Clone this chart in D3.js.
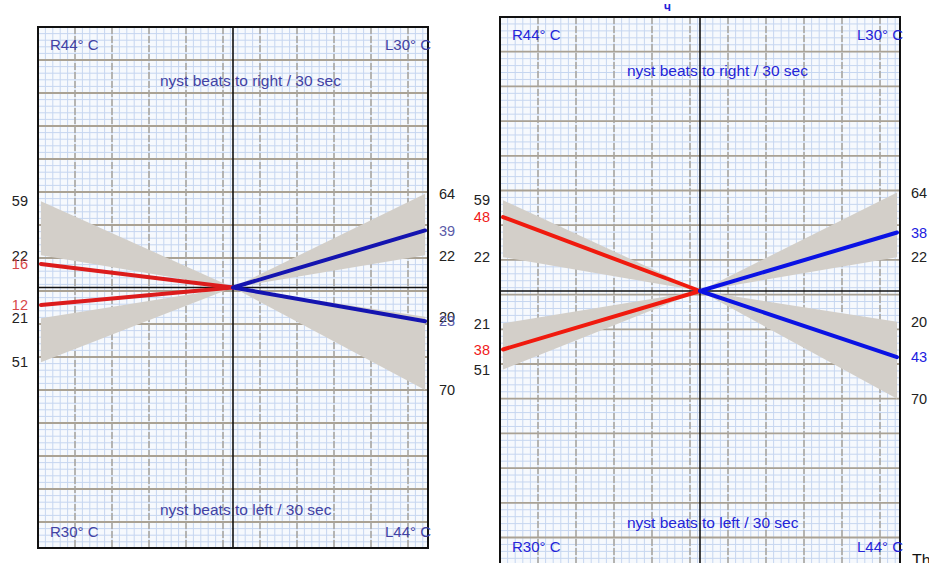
<!DOCTYPE html>
<html>
<head>
<meta charset="utf-8">
<script src="https://cdn.jsdelivr.net/npm/d3@7"></script>
<style>
  body { margin: 0; background: #fff; }
  svg { display: block; font-family: "Liberation Sans", Arial, sans-serif; }
</style>
</head>
<body>
<script>
// quadrants: upper-left, upper-right, lower-left, lower-right
var quadrants = ["R44° C", "L30° C", "R30° C", "L44° C"]
var quadSide = [-1, 1, -1, 1]      // -1 = right ear (left half), 1 = left ear
var quadDir = [1, 1, -1, -1]       // 1 = beats to right, -1 = beats to left
var normLow = [22, 22, 21, 20]
var normHigh = [59, 64, 51, 70]
var lineColor = ["red", "blue", "red", "blue"]
var beforeValues = [16, 39, 12, 23]
var afterValues = [48, 38, 38, 43]
var titles = ["nyst beats to right / 30 sec", "nyst beats to left / 30 sec"]

var width = 929, height = 563

var svg = d3.select("body").append("svg")
    .attr("width", width)
    .attr("height", height)

var panels = [
  {values: beforeValues, x0: 38, x1: 428, y0: 27, y1: 548, gx: 37, gy: 33, shift: 0,
   text: "#4242a4", red: "#dc1c1c", blue: "#1414b0", redLab: "#d84848", blueLab: "#5a5aa8"},
  {values: afterValues, x0: 500, x1: 900, y0: 17, y1: 565, gx: 38, gy: 34.7, shift: 2,
   text: "#2424d8", red: "#f01a0e", blue: "#0a12e4", redLab: "#f01a1a", blueLab: "#2020e0"}
]

panels.forEach(function(p, pi){
  var clipId = "clip" + pi
  svg.append("clipPath").attr("id", clipId)
    .append("rect").attr("x", p.x0).attr("y", p.y0)
    .attr("width", p.x1 - p.x0).attr("height", p.y1 - p.y0)

  var x = d3.scaleLinear().domain([-1, 1]).range([p.x0, p.x1])
  var y = d3.scaleLinear().domain([-178, 178]).range([p.y1, p.y0])

  var g = svg.append("g")
  var grid = g.append("g").attr("clip-path", "url(#" + clipId + ")")

  grid.append("rect")
    .attr("x", p.x0).attr("y", p.y0)
    .attr("width", p.x1 - p.x0).attr("height", p.y1 - p.y0)
    .attr("fill", "#f6f9fd")

  // minor grid
  grid.selectAll(".mv").data(d3.range(p.x0, p.x1, p.gx / 5)).enter().append("line")
    .attr("x1", d => d).attr("x2", d => d).attr("y1", p.y0).attr("y2", p.y1)
    .attr("stroke", "#c6d6f0").attr("stroke-width", 1)
  grid.selectAll(".mh").data(d3.range(p.y0, p.y1, p.gy / 5)).enter().append("line")
    .attr("y1", d => d).attr("y2", d => d).attr("x1", p.x0).attr("x2", p.x1)
    .attr("stroke", "#c6d6f0").attr("stroke-width", 1)

  // major grid
  grid.selectAll(".Mh").data(d3.range(p.y0 + p.gy, p.y1, p.gy)).enter().append("line")
    .attr("y1", d => d).attr("y2", d => d).attr("x1", p.x0).attr("x2", p.x1)
    .attr("stroke", "#aaa294").attr("stroke-width", 1.8)
  grid.selectAll(".Mv").data(d3.range(p.x0 + p.gx, p.x1, p.gx)).enter().append("line")
    .attr("x1", d => d).attr("x2", d => d).attr("y1", p.y0).attr("y2", p.y1)
    .attr("stroke", "#a8a49c").attr("stroke-width", 1.5)
    .attr("stroke-dasharray", "7,2")

  // normal range wedges
  var data = quadrants.map(function(q, i){
    return {q: q, side: quadSide[i], dir: quadDir[i], lo: normLow[i], hi: normHigh[i],
            v: p.values[i], c: lineColor[i]}
  })

  grid.selectAll(".wedge").data(data).enter().append("path")
    .attr("d", function(d){
      return d3.line()([[x(0), y(0)], [x(d.side * 0.985), y(d.lo * d.dir)], [x(d.side * 0.985), y(d.hi * d.dir)]]) + "Z"
    })
    .attr("fill", "#d3cfc9")

  // axes through centre
  g.append("line").attr("x1", x(0)).attr("x2", x(0)).attr("y1", p.y0).attr("y2", p.y1)
    .attr("stroke", "#111").attr("stroke-width", 1.6)
  g.append("line").attr("x1", p.x0).attr("x2", p.x1).attr("y1", y(0)).attr("y2", y(0))
    .attr("stroke", "#111").attr("stroke-width", 1.6)

  // patient response lines
  g.selectAll(".resp").data(data).enter().append("line")
    .attr("x1", x(0)).attr("y1", y(0))
    .attr("x2", d => x(d.side * 0.985)).attr("y2", d => y(d.v * d.dir))
    .attr("stroke", d => d.c === "red" ? p.red : p.blue)
    .attr("stroke-width", 4)
    .attr("stroke-linecap", "round")

  // frame
  g.append("rect")
    .attr("x", p.x0).attr("y", p.y0)
    .attr("width", p.x1 - p.x0).attr("height", Math.min(p.y1, height + 5) - p.y0)
    .attr("fill", "none").attr("stroke", "#111").attr("stroke-width", 2)

  // corner labels
  var top = p.y0 + 23, bottom = p.y1 - 11 - p.shift
  var corners = [[p.x0 + 12, top, "start"], [p.x1 + 3, top, "end"],
                 [p.x0 + 12, bottom, "start"], [p.x1 + 3, bottom, "end"]]
  g.selectAll(".corner").data(data).enter().append("text")
    .attr("x", (d, i) => corners[i][0]).attr("y", (d, i) => corners[i][1])
    .attr("text-anchor", (d, i) => corners[i][2])
    .attr("font-size", 15).attr("fill", p.text)
    .text(d => d.q)

  g.selectAll(".title").data(titles).enter().append("text")
    .attr("x", x(0) - 73)
    .attr("y", (d, i) => i === 0 ? p.y0 + 59 : p.y1 - 33 - p.shift * 2)
    .attr("font-size", 15.5).attr("fill", p.text)
    .text(d => d)

  // value labels beside the frame
  var labels = []
  data.forEach(function(d){
    var lx = d.side < 0 ? p.x0 - 10 : p.x1 + 11
    var anchor = d.side < 0 ? "end" : "start"
    labels.push({x: lx, y: y(d.hi * d.dir), t: d.hi, c: "#222", a: anchor})
    labels.push({x: lx, y: y(d.lo * d.dir), t: d.lo, c: "#222", a: anchor})
    labels.push({x: lx, y: y(d.v * d.dir), t: d.v, c: d.c === "red" ? p.redLab : p.blueLab, a: anchor})
  })
  g.selectAll(".vlab").data(labels).enter().append("text")
    .attr("x", d => d.x).attr("y", d => d.y)
    .attr("dy", "0.36em")
    .attr("text-anchor", d => d.a)
    .attr("font-size", 14.5).attr("fill", d => d.c)
    .text(d => d.t)
})

// cut-off text from the source page
svg.append("text").attr("x", 912).attr("y", 566)
  .attr("font-size", 16).attr("fill", "#111").text("Th")
svg.append("text").attr("x", 664).attr("y", 11)
  .attr("font-size", 12).attr("font-weight", "bold").attr("fill", "#2424d8").text("ч")
</script>
</body>
</html>
